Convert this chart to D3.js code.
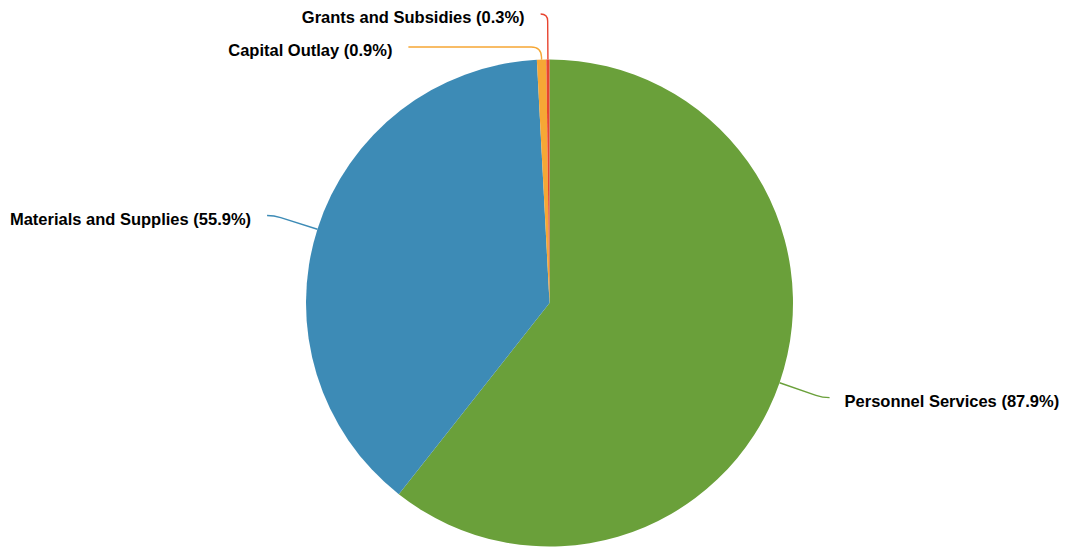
<!DOCTYPE html>
<html><head><meta charset="utf-8">
<script src="https://cdn.jsdelivr.net/npm/d3@7"></script>
<style>body{margin:0;background:#fff}svg{display:block}</style>
</head><body>
<script>
const categories = ["Personnel Services", "Materials and Supplies", "Capital Outlay", "Grants and Subsidies"];
const values = [87.9, 55.9, 0.9, 0.3];
const colors = ["#6aa03a", "#3d8bb6", "#f6a735", "#e8442f"];

const W = 1067, H = 548;
const cx = 549.5, cy = 303, r = 243.5, R = 289;
const svg = d3.select("body").append("svg").attr("width", W).attr("height", H);
const g = svg.append("g").attr("transform", `translate(${cx},${cy})`);

const data = categories.map((c, i) => ({name: c, value: values[i], color: colors[i]}));
const pie = d3.pie().value(d => d.value).sort(null);
const arcs = pie(data);
const arc = d3.arc().innerRadius(0).outerRadius(r);

g.selectAll("path.slice").data(arcs).join("path").attr("class", "slice")
  .attr("d", arc).attr("fill", d => d.data.color);

// label layout
const labels = arcs.map(a => {
  const m = (a.startAngle + a.endAngle) / 2;
  const right = Math.sin(m) >= 0;
  return {a, m, right, y: -R * Math.cos(m), name: a.data.name, value: a.data.value};
});
const spacing = 33;
["left", "right"].forEach(side => {
  const grp = labels.filter(l => (side === "right") === l.right).sort((p, q) => p.y - q.y);
  for (let i = 1; i < grp.length; i++) {
    if (grp[i].y < grp[i - 1].y + spacing) grp[i].y = grp[i - 1].y + spacing;
  }
});
labels.forEach(l => {
  const s = l.right ? 1 : -1;
  const dy = Math.abs(l.y);
  const dx = dy < R ? Math.sqrt(R * R - dy * dy) : 0;
  l.endX = s * dx + s * 7;
  const p0 = [r * Math.sin(l.m), -r * Math.cos(l.m)];
  const dir = [Math.sin(l.m), -Math.cos(l.m)];
  const t = (l.y - p0[1]) / dir[1];
  let elbow = [p0[0] + dir[0] * t, l.y];
  if (s * (l.endX - elbow[0]) < 4) elbow[0] = l.endX - s * 4;
  const seg1 = Math.hypot(elbow[0] - p0[0], elbow[1] - p0[1]);
  const seg2 = Math.abs(l.endX - elbow[0]);
  const c = Math.min(10, seg1, seg2);
  const u1 = [(elbow[0] - p0[0]) / seg1, (elbow[1] - p0[1]) / seg1];
  const a1 = [elbow[0] - u1[0] * c, elbow[1] - u1[1] * c];
  const a2 = [elbow[0] + s * c, elbow[1]];
  l.path = `M${p0[0]},${p0[1]}L${a1[0]},${a1[1]}Q${elbow[0]},${elbow[1]} ${a2[0]},${a2[1]}L${l.endX},${l.y}`;
});

g.selectAll("path.leader").data(labels).join("path").attr("class", "leader")
  .attr("d", d => d.path).attr("fill", "none")
  .attr("stroke", d => d.a.data.color).attr("stroke-width", 1.4);

const fmt = d3.format(".1f");
g.selectAll("text.lbl").data(labels).join("text").attr("class", "lbl")
  .attr("x", d => d.endX + (d.right ? 15 : -16))
  .attr("y", d => d.y + 3.5)
  .attr("dy", "0.35em")
  .attr("text-anchor", d => d.right ? "start" : "end")
  .attr("font-family", "'Liberation Sans', Arial, sans-serif")
  .attr("font-weight", "bold").attr("font-size", 16.5).attr("fill", "#000")
  .text(d => `${d.name} (${fmt(d.value)}%)`);
</script>
</body></html>
